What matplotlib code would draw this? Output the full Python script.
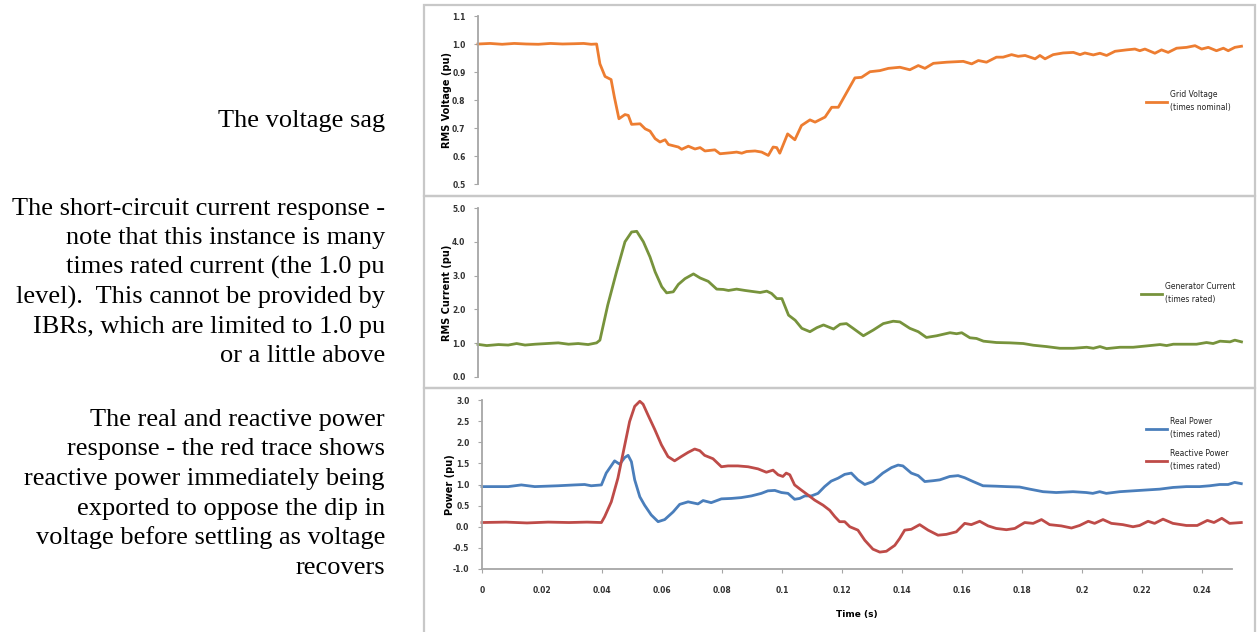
import matplotlib
matplotlib.use("Agg")
import matplotlib.pyplot as plt
from matplotlib.patches import Rectangle

W, H = 1258, 632

# grid voltage (pu)
t_volt = [0.000, 0.004, 0.008, 0.012, 0.016, 0.020, 0.024, 0.028, 0.032, 0.035, 0.0375, 0.0393,
          0.0404, 0.0421, 0.0441, 0.0452, 0.0467, 0.0487, 0.0498, 0.0509, 0.0537, 0.0554, 0.0570,
          0.0587, 0.0603, 0.0620, 0.0631, 0.0664, 0.0675, 0.0697, 0.0719, 0.0736, 0.0752, 0.0785,
          0.0802, 0.0841, 0.0857, 0.0874, 0.0890, 0.0918, 0.0940, 0.0962, 0.0978, 0.0990, 0.1000,
          0.1026, 0.1050, 0.1072, 0.1100, 0.1117, 0.1150, 0.1172, 0.1194, 0.1216, 0.1249, 0.1271,
          0.1299, 0.1332, 0.1360, 0.1398, 0.1431, 0.1459, 0.1481, 0.1509, 0.1553, 0.1608, 0.1636,
          0.1658, 0.1685, 0.1718, 0.1740, 0.1768, 0.1790, 0.1813, 0.1846, 0.1862, 0.1879, 0.1906,
          0.1939, 0.1973, 0.1995, 0.2011, 0.2039, 0.2061, 0.2083, 0.2111, 0.2149, 0.2177, 0.2193,
          0.2210, 0.2243, 0.2265, 0.2287, 0.2315, 0.2348, 0.2376, 0.2398, 0.2420, 0.2447, 0.2470,
          0.2486, 0.2508, 0.2530]
volt = [1.000, 1.002, 0.999, 1.002, 1.000, 0.999, 1.002, 1.000, 1.001, 1.002, 0.999, 1.000,
        0.929, 0.884, 0.873, 0.810, 0.733, 0.748, 0.745, 0.713, 0.715, 0.697, 0.689,
        0.662, 0.650, 0.658, 0.641, 0.632, 0.624, 0.635, 0.625, 0.630, 0.618, 0.622,
        0.608, 0.612, 0.614, 0.610, 0.616, 0.618, 0.614, 0.602, 0.632, 0.630, 0.610,
        0.679, 0.658, 0.709, 0.729, 0.721, 0.739, 0.774, 0.774, 0.816, 0.879, 0.881,
        0.901, 0.905, 0.913, 0.917, 0.908, 0.923, 0.913, 0.931, 0.935, 0.938, 0.929,
        0.941, 0.935, 0.953, 0.953, 0.962, 0.956, 0.959, 0.947, 0.959, 0.947, 0.962,
        0.968, 0.970, 0.962, 0.968, 0.961, 0.967, 0.959, 0.974, 0.979, 0.982, 0.976,
        0.982, 0.967, 0.979, 0.970, 0.985, 0.988, 0.994, 0.982, 0.988, 0.976, 0.985,
        0.976, 0.988, 0.992]

# generator current (pu)
t_curr = [0.000, 0.0029, 0.0068, 0.0100, 0.0128, 0.0156, 0.0189, 0.0266, 0.0300, 0.0332, 0.0365,
          0.0393, 0.0404, 0.0430, 0.0459, 0.0487, 0.0509, 0.0526, 0.0548, 0.0570, 0.0587, 0.0609,
          0.0625, 0.0647, 0.0664, 0.0686, 0.0714, 0.0736, 0.0763, 0.0791, 0.0813, 0.0830, 0.0857,
          0.0885, 0.0918, 0.0935, 0.0957, 0.0973, 0.0990, 0.1007, 0.1029, 0.1051, 0.1073, 0.1100,
          0.1123, 0.1145, 0.1178, 0.1200, 0.1221, 0.1243, 0.1277, 0.1310, 0.1343, 0.1376, 0.1398,
          0.1431, 0.1459, 0.1486, 0.1520, 0.1564, 0.1586, 0.1603, 0.1630, 0.1652, 0.1675, 0.1718,
          0.1763, 0.1807, 0.1840, 0.1884, 0.1928, 0.1973, 0.2017, 0.2039, 0.2061, 0.2083, 0.2127,
          0.2171, 0.2216, 0.2260, 0.2282, 0.2304, 0.2348, 0.2381, 0.2414, 0.2436, 0.2459, 0.2492,
          0.2508, 0.2530]
curr = [0.965, 0.93, 0.96, 0.945, 0.99, 0.945, 0.97, 1.01, 0.97, 0.99, 0.96,
        1.01, 1.09, 2.13, 3.11, 4.00, 4.29, 4.31, 4.00, 3.55, 3.11, 2.67,
        2.49, 2.52, 2.74, 2.91, 3.05, 2.93, 2.83, 2.60, 2.59, 2.56, 2.60,
        2.56, 2.52, 2.50, 2.54, 2.47, 2.32, 2.32, 1.83, 1.68, 1.44, 1.34,
        1.46, 1.54, 1.42, 1.56, 1.58, 1.44, 1.22, 1.39, 1.58, 1.65, 1.63,
        1.44, 1.34, 1.17, 1.22, 1.31, 1.28, 1.31, 1.16, 1.14, 1.06, 1.02,
        1.01, 0.99, 0.94, 0.90, 0.85, 0.85, 0.88, 0.85, 0.90, 0.84, 0.88,
        0.88, 0.92, 0.96, 0.93, 0.97, 0.97, 0.97, 1.02, 0.99, 1.06, 1.04,
        1.09, 1.04]

# real power (pu)
t_real = [0.000, 0.0087, 0.0131, 0.0176, 0.0253, 0.0309, 0.0342, 0.0364, 0.0398, 0.0414, 0.0442,
          0.0459, 0.0476, 0.0487, 0.0498, 0.0509, 0.0526, 0.0542, 0.0564, 0.0587, 0.0609, 0.0637,
          0.0659, 0.0687, 0.0720, 0.0737, 0.0764, 0.0798, 0.0831, 0.0864, 0.0898, 0.0931, 0.0953,
          0.0976, 0.0998, 0.1020, 0.1042, 0.1059, 0.1076, 0.1098, 0.1120, 0.1142, 0.1164, 0.1187,
          0.1209, 0.1231, 0.1253, 0.1276, 0.1303, 0.1336, 0.1365, 0.1387, 0.1403, 0.1431, 0.1454,
          0.1476, 0.1504, 0.1526, 0.1559, 0.1587, 0.1609, 0.1637, 0.1670, 0.1714, 0.1748, 0.1792,
          0.1826, 0.1870, 0.1914, 0.1970, 0.2014, 0.2036, 0.2059, 0.2081, 0.2126, 0.2170, 0.2214,
          0.2259, 0.2303, 0.2348, 0.2392, 0.2426, 0.2459, 0.2487, 0.2509, 0.2531]
p_real = [0.95, 0.95, 0.99, 0.95, 0.97, 0.99, 1.00, 0.97, 0.99, 1.27, 1.56,
          1.48, 1.64, 1.69, 1.54, 1.11, 0.71, 0.51, 0.28, 0.12, 0.17, 0.35,
          0.53, 0.59, 0.54, 0.62, 0.57, 0.66, 0.67, 0.69, 0.73, 0.79, 0.85,
          0.86, 0.81, 0.79, 0.65, 0.67, 0.73, 0.73, 0.79, 0.95, 1.08, 1.15,
          1.24, 1.27, 1.11, 1.00, 1.07, 1.27, 1.40, 1.46, 1.44, 1.27, 1.21,
          1.07, 1.09, 1.11, 1.19, 1.21, 1.16, 1.07, 0.97, 0.96, 0.95, 0.94,
          0.89, 0.83, 0.81, 0.83, 0.81, 0.79, 0.83, 0.79, 0.83, 0.85, 0.87,
          0.89, 0.93, 0.95, 0.95, 0.97, 1.00, 1.00, 1.05, 1.02]

# reactive power (pu)
t_react = [0.000, 0.008, 0.015, 0.022, 0.029, 0.035, 0.0398, 0.0409, 0.0431, 0.0453, 0.0476,
           0.0492, 0.0509, 0.0526, 0.0537, 0.0553, 0.0576, 0.0598, 0.0620, 0.0642, 0.0664, 0.0687,
           0.0709, 0.0726, 0.0742, 0.0770, 0.0798, 0.0820, 0.0853, 0.0887, 0.0920, 0.0948, 0.0970,
           0.0987, 0.1003, 0.1014, 0.1026, 0.1042, 0.1064, 0.1087, 0.1109, 0.1137, 0.1159, 0.1176,
           0.1192, 0.1209, 0.1226, 0.1253, 0.1276, 0.1303, 0.1326, 0.1348, 0.1376, 0.1392, 0.1409,
           0.1431, 0.1459, 0.1487, 0.1520, 0.1548, 0.1581, 0.1609, 0.1631, 0.1659, 0.1687, 0.1714,
           0.1748, 0.1776, 0.1809, 0.1837, 0.1865, 0.1892, 0.1931, 0.1965, 0.1992, 0.2021, 0.2042,
           0.2070, 0.2098, 0.2136, 0.2170, 0.2192, 0.2220, 0.2242, 0.2270, 0.2303, 0.2348, 0.2384,
           0.2418, 0.2440, 0.2466, 0.2492, 0.2531]
q_react = [0.10, 0.11, 0.09, 0.11, 0.10, 0.11, 0.10, 0.24, 0.59, 1.15, 1.94,
           2.49, 2.85, 2.97, 2.90, 2.65, 2.30, 1.94, 1.66, 1.56, 1.66, 1.76,
           1.84, 1.80, 1.69, 1.61, 1.42, 1.44, 1.44, 1.42, 1.37, 1.29, 1.34,
           1.23, 1.19, 1.27, 1.23, 0.99, 0.87, 0.75, 0.63, 0.51, 0.39, 0.24,
           0.12, 0.12, 0.00, -0.08, -0.32, -0.53, -0.60, -0.58, -0.44, -0.28, -0.08,
           -0.06, 0.05, -0.08, -0.20, -0.18, -0.12, 0.08, 0.05, 0.13, 0.02, -0.04,
           -0.07, -0.04, 0.10, 0.08, 0.17, 0.05, 0.02, -0.03, 0.03, 0.13, 0.08,
           0.17, 0.08, 0.05, 0.00, 0.03, 0.13, 0.08, 0.18, 0.08, 0.03, 0.03,
           0.15, 0.10, 0.20, 0.08, 0.10]

x_ticks = [0, 0.02, 0.04, 0.06, 0.08, 0.1, 0.12, 0.14, 0.16, 0.18, 0.2, 0.22, 0.24]

notes = [
    ["The voltage sag"],
    ["The short-circuit current response -", "note that this instance is many",
     "times rated current (the 1.0 pu", "level).  This cannot be provided by",
     "IBRs, which are limited to 1.0 pu", "or a little above"],
    ["The real and reactive power", "response - the red trace shows",
     "reactive power immediately being", "exported to oppose the dip in",
     "voltage before settling as voltage", "recovers"],
]
note_base = [127, 215, 426]

C_ORANGE = "#ED7D31"
C_GREEN = "#77933C"
C_BLUE = "#4A7EBB"
C_RED = "#BE4B48"
C_AXIS = "#A6A6A6"
C_BOX = "#C8C8C8"

fig = plt.figure(figsize=(W / 100, H / 100), dpi=100)


def px_axes(left, top, right, bottom):
    return fig.add_axes([left / W, 1 - bottom / H, (right - left) / W, (bottom - top) / H])


# chart borders
for top, bottom in [(5, 196), (196, 388), (388, 640)]:
    fig.add_artist(Rectangle((424 / W, 1 - bottom / H), (1255 - 424) / W, (bottom - top) / H,
                             transform=fig.transFigure, fill=False, ec=C_BOX, lw=1.6))


def style(ax, ylabel, xaxis=False):
    for s in ["top", "right"]:
        ax.spines[s].set_visible(False)
    ax.spines["left"].set_color(C_AXIS)
    ax.spines["left"].set_linewidth(1.3)
    if xaxis:
        ax.spines["bottom"].set_color(C_AXIS)
        ax.spines["bottom"].set_linewidth(1.3)
        ax.spines["bottom"].set_bounds(0, 0.25)
        ax.set_xticks(x_ticks)
        ax.set_xticklabels([("%g" % v) for v in x_ticks])
        ax.tick_params(axis="x", length=3, color=C_AXIS, labelsize=5.5, pad=9)
        ax.set_xlabel("Time (s)", fontsize=6.5, fontweight="bold")
        ax.xaxis.set_label_coords(0.125 / 0.2535, -0.24)
    else:
        ax.spines["bottom"].set_visible(False)
        ax.set_xticks([])
    ax.tick_params(axis="y", length=3, color=C_AXIS, labelsize=5.5, pad=6)
    ax.set_ylabel(ylabel, fontsize=7, fontweight="bold")
    ax.set_xlim(0, 0.2535)
    for lbl in ax.get_xticklabels() + ax.get_yticklabels():
        lbl.set_fontweight("bold")
        lbl.set_color("#333333")


# voltage panel
ax1 = px_axes(478, 16, 1243, 184)
ax1.plot(t_volt, volt, color=C_ORANGE, lw=2.0, label="Grid Voltage\n(times nominal)", clip_on=False)
ax1.set_ylim(0.5, 1.1)
ax1.set_yticks([0.5, 0.6, 0.7, 0.8, 0.9, 1.0, 1.1])
ax1.set_yticklabels(["%.1f" % v for v in [0.5, 0.6, 0.7, 0.8, 0.9, 1.0, 1.1]])
style(ax1, "RMS Voltage (pu)")
ax1.yaxis.set_label_coords(-26 / 765, 0.5)

# current panel
ax2 = px_axes(478, 208, 1243, 377)
ax2.plot(t_curr, curr, color=C_GREEN, lw=2.0, label="Generator Current\n(times rated)", clip_on=False)
ax2.set_ylim(0, 5)
ax2.set_yticks([0, 1, 2, 3, 4, 5])
ax2.set_yticklabels(["%.1f" % v for v in [0, 1, 2, 3, 4, 5]])
style(ax2, "RMS Current (pu)")
ax2.yaxis.set_label_coords(-26 / 765, 0.5)

# power panel
ax3 = px_axes(482, 400, 1242.5, 569)
ax3.plot(t_real, p_real, color=C_BLUE, lw=2.0, label="Real Power\n(times rated)", clip_on=False)
ax3.plot(t_react, q_react, color=C_RED, lw=2.0, label="Reactive Power\n(times rated)", clip_on=False)
ax3.set_ylim(-1, 3)
yt3 = [-1, -0.5, 0, 0.5, 1, 1.5, 2, 2.5, 3]
ax3.set_yticks(yt3)
ax3.set_yticklabels(["%.1f" % v for v in yt3])
style(ax3, "Power (pu)", xaxis=True)
ax3.yaxis.set_label_coords(-27 / 760.5, 0.5)

# legends
for ax, (lx, ly) in [(ax1, (1146, 101)), (ax2, (1141, 293)), (ax3, (1146, 444))]:
    leg = ax.legend(loc="center left", bbox_to_anchor=(lx / W, 1 - ly / H),
                    bbox_transform=fig.transFigure, frameon=False, fontsize=5.5,
                    handlelength=2.8, handletextpad=0.3, borderpad=0, borderaxespad=0,
                    labelspacing=1.3)
    for txt in leg.get_texts():
        txt.set_linespacing(1.6)
        txt.set_color("#222222")

# notes on the left
for lines, y0 in zip(notes, note_base):
    for i, line in enumerate(lines):
        fig.text(385 / W, 1 - (y0 + i * 29.5) / H, line, ha="right", va="baseline",
                 fontsize=19, family="Liberation Serif", color="black")

fig.savefig("out.png", dpi=100)
